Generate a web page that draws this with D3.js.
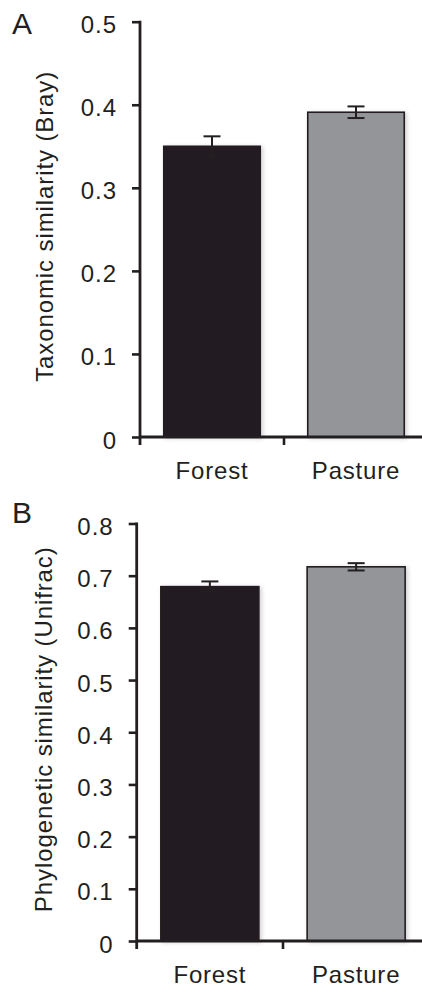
<!DOCTYPE html>
<html>
<head>
<meta charset="utf-8">
<script src="https://cdn.jsdelivr.net/npm/d3@7"></script>
<style>
  html, body { margin: 0; padding: 0; background: #fff; }
  svg text { font-family: "Liberation Sans", Arial, Helvetica, sans-serif; fill: #231f20; }
</style>
</head>
<body>
<svg id="chart" width="422" height="988"></svg>
<script>
// data
var categories = ["Forest", "Pasture"];
var barColors = ["#231f20", "#939598"];

var taxoValues = [0.350, 0.391];
var taxoErrors = [0.012, 0.007];
var taxoTicks = [0, 0.1, 0.2, 0.3, 0.4, 0.5];

var phyloValues = [0.679, 0.717];
var phyloErrors = [0.010, 0.007];
var phyloTicks = [0, 0.1, 0.2, 0.3, 0.4, 0.5, 0.6, 0.7, 0.8];

var ink = "#231f20";
var svg = d3.select("#chart");

// soft shadow like the excel export
var defs = svg.append("defs");
defs.append("filter")
    .attr("id", "shadow")
    .attr("x", "-10%").attr("y", "-10%")
    .attr("width", "130%").attr("height", "130%")
  .append("feDropShadow")
    .attr("dx", 2).attr("dy", 1)
    .attr("stdDeviation", 2)
    .attr("flood-color", "#000")
    .attr("flood-opacity", 0.18);

function panel(opt) {
    var g = svg.append("g");

    var x = d3.scaleBand()
        .domain(categories)
        .range([opt.left, opt.right])
        .paddingInner(0.33)
        .paddingOuter(0.165);

    var y = d3.scaleLinear()
        .domain([0, opt.max])
        .range([opt.bottom, opt.top]);

    // bars
    g.selectAll("rect.bar")
        .data(opt.values)
        .enter()
        .append("rect")
            .attr("class", "bar")
            .attr("x", (d, i) => x(categories[i]))
            .attr("y", d => y(d))
            .attr("width", x.bandwidth())
            .attr("height", d => y(0) - y(d))
            .style("fill", (d, i) => barColors[i])
            .style("stroke", ink)
            .style("stroke-width", 1.6)
            .attr("filter", "url(#shadow)");

    // error bars
    var err = g.selectAll("g.err")
        .data(opt.values)
        .enter()
        .append("g")
            .attr("class", "err")
            .style("stroke", ink)
            .style("stroke-width", 2);
    err.append("line")
        .attr("x1", (d, i) => x(categories[i]) + x.bandwidth() / 2)
        .attr("x2", (d, i) => x(categories[i]) + x.bandwidth() / 2)
        .attr("y1", (d, i) => y(d + opt.errors[i]))
        .attr("y2", (d, i) => y(d - opt.errors[i]));
    [1, -1].forEach(function(s) {
        err.append("line")
            .attr("x1", (d, i) => x(categories[i]) + x.bandwidth() / 2 - 8.5)
            .attr("x2", (d, i) => x(categories[i]) + x.bandwidth() / 2 + 8.5)
            .attr("y1", (d, i) => y(d + s * opt.errors[i]))
            .attr("y2", (d, i) => y(d + s * opt.errors[i]));
    });

    // y axis
    var yAxis = d3.axisLeft(y)
        .tickValues(opt.ticks)
        .tickSize(8)
        .tickPadding(15)
        .tickFormat(d => d === 0 ? "0" : d3.format(".1f")(d));
    var ya = g.append("g")
        .attr("transform", "translate(" + opt.left + ",0)")
        .call(yAxis);
    ya.select(".domain").remove();
    ya.selectAll(".tick line").style("stroke", ink).style("stroke-width", 2.6);
    ya.selectAll(".tick text")
        .attr("dy", "0.46em")
        .style("font-size", "24px")
        .style("letter-spacing", "1px");

    // axis lines
    g.append("line")
        .attr("x1", opt.left).attr("x2", opt.left)
        .attr("y1", y(opt.max) - 1).attr("y2", y(0) + 8)
        .style("stroke", ink).style("stroke-width", 2.8);
    g.append("line")
        .attr("x1", opt.left).attr("x2", opt.right)
        .attr("y1", y(0)).attr("y2", y(0))
        .style("stroke", ink).style("stroke-width", 2.8);

    // category boundary ticks
    g.selectAll("line.btick")
        .data(categories.slice(1))
        .enter()
        .append("line")
            .attr("class", "btick")
            .attr("x1", d => x(d) - x.step() * 0.165)
            .attr("x2", d => x(d) - x.step() * 0.165)
            .attr("y1", y(0)).attr("y2", y(0) + 8)
            .style("stroke", ink).style("stroke-width", 2.6);

    // category labels
    g.selectAll("text.cat")
        .data(categories)
        .enter()
        .append("text")
            .attr("class", "cat")
            .attr("x", d => x(d) + x.bandwidth() / 2)
            .attr("y", y(0) + 42)
            .attr("text-anchor", "middle")
            .style("font-size", "24px")
            .style("letter-spacing", "0.8px")
            .text(d => d);

    // y title
    g.append("text")
        .attr("transform", "translate(" + opt.titleX + "," + ((y(0) + y(opt.max)) / 2 - 3) + ") rotate(-90)")
        .attr("text-anchor", "middle")
        .style("font-size", "24px")
        .style("letter-spacing", "0.9px")
        .text(opt.title);

    // panel letter
    g.append("text")
        .attr("x", 12)
        .attr("y", opt.letterY)
        .style("font-size", "30px")
        .text(opt.letter);
}

panel({
    values: taxoValues, errors: taxoErrors, ticks: taxoTicks, max: 0.5,
    left: 140, right: 428, top: 21.7, bottom: 437,
    title: "Taxonomic similarity (Bray)", titleX: 53,
    letter: "A", letterY: 34
});

panel({
    values: phyloValues, errors: phyloErrors, ticks: phyloTicks, max: 0.8,
    left: 136.7, right: 429.3, top: 523.5, bottom: 941,
    title: "Phylogenetic similarity (Unifrac)", titleX: 52,
    letter: "B", letterY: 523
});
</script>
</body>
</html>
